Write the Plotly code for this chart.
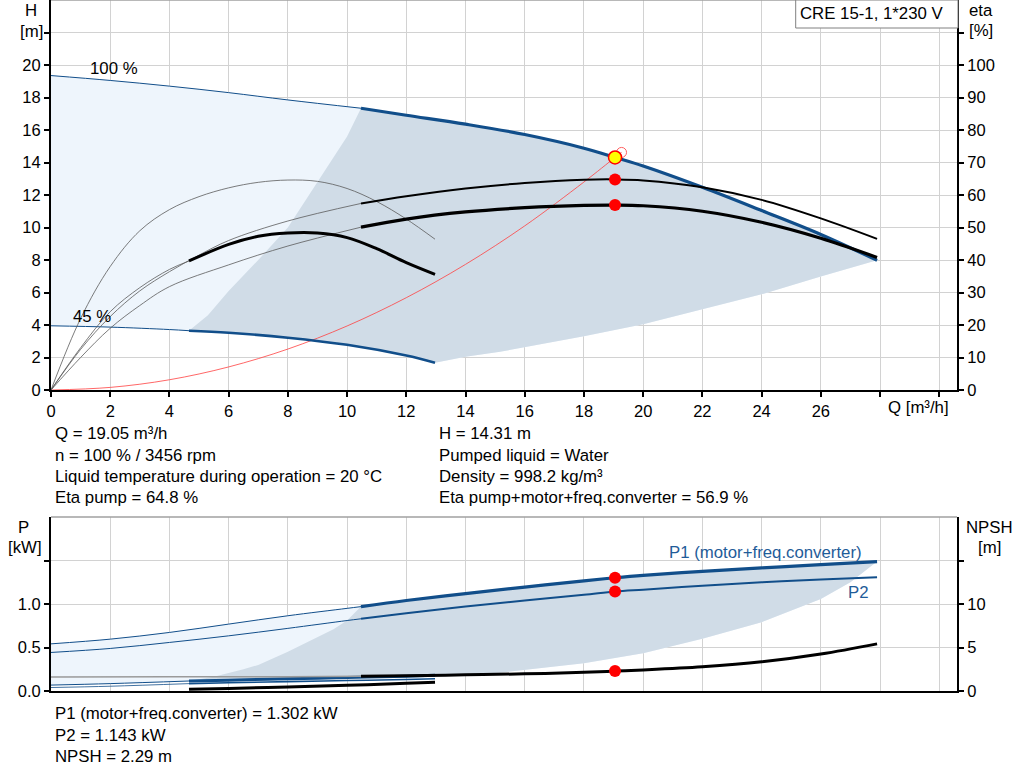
import plotly.graph_objects as go

# ---- H-Q curves (Q in m3/h, H in m) ----
q_h100_thin = [0, 2, 4, 6, 8, 10.47]
h_h100_thin = [19.35, 19.05, 18.7, 18.3, 17.85, 17.34]
q_h100 = [10.47, 12, 14, 16, 18, 19.05, 20, 22, 24, 26, 27.9]
h_h100 = [17.34, 16.91, 16.36, 15.72, 14.88, 14.31, 13.78, 12.47, 11.04, 9.57, 7.98]

q_h45_thin = [0, 2, 4, 4.66]
h_h45_thin = [3.95, 3.87, 3.72, 3.65]
q_h45 = [4.66, 6, 8, 10, 12, 12.97]
h_h45 = [3.65, 3.52, 3.22, 2.78, 2.12, 1.68]

# system curve
q_sys = [0, 2, 4, 6, 8, 10, 12, 14, 16, 18, 19.05, 19.27]
h_sys = [0, 0.16, 0.63, 1.42, 2.52, 3.94, 5.68, 7.73, 10.1, 12.8, 14.31, 14.62]

# operating range borders
q_min_border = [4.66, 5.3, 6.0, 7.0, 8.0, 9.0, 10.0, 10.47]
h_min_border = [3.65, 4.6, 6.1, 8.0, 10.0, 12.8, 15.6, 17.34]
q_max_border = [12.97, 14, 15.17, 18, 20, 22, 24, 26, 27.9]
h_max_border = [1.68, 2.05, 2.35, 3.31, 4.05, 4.95, 5.89, 6.99, 7.98]

# ---- efficiency curves (%) ----
q_etap100_thin = [0, 1, 2, 3, 4, 5, 6, 8, 10.47]
etap100_thin = [0, 12.5, 22.6, 30.5, 36.4, 41.5, 46, 52, 57.4]
q_etap100 = [10.47, 12, 14, 16, 18, 19.05, 20, 22, 24, 26, 27.9]
etap100 = [57.4, 59.6, 62.0, 63.7, 64.7, 64.8, 64.5, 62.4, 58.5, 52.8, 46.5]

q_etat100_thin = [0, 1, 2, 3, 4, 6, 8, 10.47]
etat100_thin = [0, 10, 19, 26, 31.8, 38.5, 44.3, 50.1]
q_etat100 = [10.47, 12, 14, 16, 18, 19.05, 20, 22, 24, 26, 27.9]
etat100 = [50.1, 52.6, 54.8, 56.1, 56.8, 56.9, 56.7, 55.0, 51.6, 46.7, 40.8]

q_etap45 = [0, 1, 2, 3, 4, 5, 6, 7, 8, 9, 10, 11, 12, 12.97]
etap45 = [0, 22, 38, 49, 55.5, 59.5, 62.2, 63.9, 64.6, 64.2, 62.0, 58.0, 52.6, 46.4]

q_etat45_thin = [0, 1, 2, 3, 4, 4.66]
etat45_thin = [0, 13, 24.1, 31.5, 37.1, 39.7]
q_etat45 = [4.66, 6, 7, 8, 9, 10, 11, 12, 12.97]
etat45 = [39.7, 44.8, 47.3, 48.3, 48.3, 46.9, 43.5, 39.2, 35.6]

# ---- power (kW) and NPSH (m) ----
q_p1_100_thin = [0, 2, 4, 6, 8, 10, 10.47]
p1_100_thin = [0.542, 0.596, 0.673, 0.769, 0.865, 0.95, 0.97]
q_p1_100 = [10.47, 12, 14, 16, 18, 19.05, 20, 22, 24, 26, 27.9]
p1_100 = [0.97, 1.04, 1.12, 1.195, 1.265, 1.302, 1.33, 1.375, 1.415, 1.452, 1.488]

q_p2_100_thin = [0, 2, 4, 6, 8, 10, 10.47]
p2_100_thin = [0.443, 0.489, 0.558, 0.634, 0.72, 0.81, 0.83]
q_p2_100 = [10.47, 12, 14, 16, 18, 19.05, 20, 22, 24, 26, 27.9]
p2_100 = [0.83, 0.895, 0.972, 1.04, 1.105, 1.143, 1.165, 1.21, 1.25, 1.282, 1.308]

q_p1_45_thin = [0, 2, 4.66]
p1_45_thin = [0.068, 0.085, 0.115]
q_p1_45 = [4.66, 6, 8, 10, 12, 12.97]
p1_45 = [0.115, 0.125, 0.14, 0.155, 0.17, 0.18]

q_p2_45_thin = [0, 2, 4.66]
p2_45_thin = [0.04, 0.055, 0.085]
q_p2_45 = [4.66, 6, 8, 10, 12, 12.97]
p2_45 = [0.085, 0.095, 0.108, 0.12, 0.132, 0.14]

q_p_min_border = [4.66, 5.5, 6.5, 7.0, 8.0, 8.86, 9.54, 10.0, 10.47]
p_min_border = [0.115, 0.165, 0.25, 0.3, 0.45, 0.6, 0.71, 0.81, 0.97]
q_p_max_border = [12.97, 14, 15.17, 18, 20, 22, 24, 26, 27, 27.9]
p_max_border = [0.18, 0.19, 0.21, 0.32, 0.435, 0.6, 0.79, 1.058, 1.25, 1.488]

q_npsh100_thin = [0, 4, 8, 10.47]
npsh100_thin = [1.62, 1.63, 1.65, 1.7]
q_npsh100 = [10.47, 12, 14, 16, 18, 19.05, 20, 22, 24, 26, 27.9]
npsh100 = [1.7, 1.76, 1.86, 1.97, 2.15, 2.29, 2.42, 2.78, 3.35, 4.25, 5.42]

q_npsh45 = [4.66, 6, 8, 10, 12, 12.97]
npsh45 = [0.2, 0.3, 0.45, 0.65, 0.88, 1.0]

# duty point
q_op = 19.05
h_op = 14.31
eta_pump_op = 64.8
eta_total_op = 56.9
p1_op = 1.302
p2_op = 1.143
npsh_op = 2.29
q_sys_end = 19.27
h_sys_end = 14.62

info_left = ["Q = 19.05 m³/h", "n = 100 % / 3456 rpm",
             "Liquid temperature during operation = 20 °C", "Eta pump = 64.8 %"]
info_right = ["H = 14.31 m", "Pumped liquid = Water",
              "Density = 998.2 kg/m³", "Eta pump+motor+freq.converter = 56.9 %"]
info_bottom = ["P1 (motor+freq.converter) = 1.302 kW", "P2 = 1.143 kW", "NPSH = 2.29 m"]

x_ticks = list(range(0, 31, 2))

# ---- style ----
BLUE = '#114E8A'
LABEL_BLUE = '#1F5C99'
THIN = '#5A5A5A'
LIGHT = '#EEF5FC'
DARK = '#D0DCE7'
GRID = '#D2D2D2'
FONT = 'Arial, Liberation Sans, sans-serif'
TXT = 16.8

W, H = 1024, 781
L, R, T, B = 51, 957, 0, 691


def px2paper(px, py):
    return (px - L) / (R - L), (B - py) / (B - T)


fig = go.Figure()


def curve(x, y, color, width, xa='x', ya='y', shape='spline'):
    fig.add_trace(go.Scatter(x=x, y=y, mode='lines', xaxis=xa, yaxis=ya,
                             line=dict(color=color, width=width, shape=shape),
                             hoverinfo='skip', showlegend=False))


def area(x, y, color, xa='x', ya='y'):
    fig.add_trace(go.Scatter(x=x, y=y, mode='lines', fill='toself', fillcolor=color,
                             line=dict(width=0, color=color), xaxis=xa, yaxis=ya,
                             hoverinfo='skip', showlegend=False))


# top plot areas
area(q_h100_thin + q_h100[1:] + q_max_border[::-1][1:] + q_h45[::-1][1:] + q_h45_thin[::-1],
     h_h100_thin + h_h100[1:] + h_max_border[::-1][1:] + h_h45[::-1][1:] + h_h45_thin[::-1], LIGHT)
area(q_min_border + q_h100[1:] + q_max_border[::-1][1:] + q_h45[::-1][1:],
     h_min_border + h_h100[1:] + h_max_border[::-1][1:] + h_h45[::-1][1:], DARK)

# bottom plot areas
area(q_p1_100_thin + q_p1_100[1:] + q_p_max_border[::-1][1:] + q_p1_45[::-1][1:] + q_p1_45_thin[::-1],
     p1_100_thin + p1_100[1:] + p_max_border[::-1][1:] + p1_45[::-1][1:] + p1_45_thin[::-1],
     LIGHT, 'x2', 'y3')
area(q_p_min_border + q_p1_100[1:] + q_p_max_border[::-1][1:] + q_p1_45[::-1][1:],
     p_min_border + p1_100[1:] + p_max_border[::-1][1:] + p1_45[::-1][1:],
     DARK, 'x2', 'y3')

# efficiency curves (right axis)
curve(q_etap45, etap45, THIN, 0.8, ya='y2')
curve(q_etat45_thin, etat45_thin, THIN, 0.8, ya='y2')
curve(q_etap100_thin, etap100_thin, THIN, 0.8, ya='y2')
curve(q_etat100_thin, etat100_thin, THIN, 0.8, ya='y2')
curve(q_etat45, etat45, 'black', 3, ya='y2')
curve(q_etap100, etap100, 'black', 2, ya='y2')
curve(q_etat100, etat100, 'black', 3.2, ya='y2')

# head curves
curve(q_sys, h_sys, '#FF4040', 0.8)
curve(q_h100_thin, h_h100_thin, BLUE, 1)
curve(q_h100, h_h100, BLUE, 3.2)
curve(q_h45_thin, h_h45_thin, BLUE, 1)
curve(q_h45, h_h45, BLUE, 2.6)

# bottom curves
curve(q_npsh100_thin, npsh100_thin, '#9A9A9A', 1.5, 'x2', 'y4')
curve(q_npsh100, npsh100, 'black', 3, 'x2', 'y4')
curve(q_npsh45, npsh45, 'black', 3, 'x2', 'y4')
curve(q_p2_45_thin, p2_45_thin, BLUE, 0.8, 'x2', 'y3')
curve(q_p2_45, p2_45, BLUE, 1.6, 'x2', 'y3')
curve(q_p1_45_thin, p1_45_thin, BLUE, 1, 'x2', 'y3')
curve(q_p1_45, p1_45, BLUE, 3, 'x2', 'y3')
curve(q_p2_100_thin, p2_100_thin, BLUE, 1, 'x2', 'y3')
curve(q_p2_100, p2_100, BLUE, 2, 'x2', 'y3')
curve(q_p1_100_thin, p1_100_thin, BLUE, 1, 'x2', 'y3')
curve(q_p1_100, p1_100, BLUE, 3.2, 'x2', 'y3')

# duty point markers
fig.add_trace(go.Scatter(x=[q_sys_end], y=[h_sys_end], mode='markers', hoverinfo='skip',
                         marker=dict(size=10, color='rgba(255,255,255,0)',
                                     line=dict(color='#FF6060', width=1)), showlegend=False))
fig.add_trace(go.Scatter(x=[q_op, q_op], y=[eta_pump_op, eta_total_op], mode='markers',
                         yaxis='y2', hoverinfo='skip',
                         marker=dict(size=12, color='#FF0000'), showlegend=False))
fig.add_trace(go.Scatter(x=[q_op], y=[h_op], mode='markers', hoverinfo='skip',
                         marker=dict(size=13, color='#FFFF00', line=dict(color='#FF0000', width=1.5)),
                         showlegend=False))
fig.add_trace(go.Scatter(x=[q_op, q_op], y=[p1_op, p2_op], mode='markers', xaxis='x2', yaxis='y3',
                         hoverinfo='skip', marker=dict(size=12, color='#FF0000'), showlegend=False))
fig.add_trace(go.Scatter(x=[q_op], y=[npsh_op], mode='markers', xaxis='x2', yaxis='y4',
                         hoverinfo='skip', marker=dict(size=12, color='#FF0000'), showlegend=False))

top_dom = [(B - 390) / (B - T), 1]
bot_dom = [0, (B - 517) / (B - T)]

axis_common = dict(showline=True, linecolor='black', linewidth=2, ticks='outside',
                   ticklen=5, tickcolor='black', tickwidth=1.5, zeroline=False,
                   tickfont=dict(size=16.5, color='black', family=FONT))

fig.update_layout(
    width=W, height=H,
    margin=dict(l=L, r=W - R, t=T, b=H - B),
    paper_bgcolor='white', plot_bgcolor='white',
    font=dict(family=FONT, size=16, color='black'),
    showlegend=False,
    xaxis=dict(domain=[0, 1], range=[0, 30.6], anchor='y', tickvals=x_ticks,
               ticktext=[str(v) if v <= 26 else '' for v in x_ticks],
               showgrid=True, gridcolor=GRID, gridwidth=1, **axis_common),
    yaxis=dict(domain=top_dom, range=[0, 24], anchor='x', tickvals=list(range(0, 23, 2)),
               ticktext=[str(v) if v <= 20 else '' for v in range(0, 23, 2)],
               showgrid=True, gridcolor=GRID, gridwidth=1, **axis_common),
    yaxis2=dict(overlaying='y', side='right', anchor='x', range=[0, 120],
                tickvals=list(range(0, 111, 10)),
                ticktext=[str(v) if v <= 100 else '' for v in range(0, 111, 10)],
                showgrid=False, **axis_common),
    xaxis2=dict(domain=[0, 1], range=[0, 30.6], anchor='y3', tickvals=x_ticks,
                showticklabels=False, showgrid=True, gridcolor=GRID, gridwidth=1,
                showline=True, linecolor='black', linewidth=2, zeroline=False, ticks=''),
    yaxis3=dict(domain=bot_dom, range=[0, 2.0], anchor='x2', tickvals=[0, 0.5, 1.0, 1.5],
                ticktext=['0.0', '0.5', '1.0', ''], showgrid=True, gridcolor=GRID,
                gridwidth=1, **axis_common),
    yaxis4=dict(overlaying='y3', side='right', anchor='x2', range=[0, 20],
                tickvals=[0, 5, 10, 15], ticktext=['0', '5', '10', ''],
                showgrid=False, **axis_common),
)

# frame tops (grey)
shapes = []
for yp in [1, bot_dom[1]]:
    shapes.append(dict(type='line', xref='paper', yref='paper', x0=0, x1=1, y0=yp, y1=yp,
                       line=dict(color='#A0A0A0', width=1.5)))
bx0, by0 = px2paper(795.7, 28)
bx1, by1 = px2paper(958, 0)
shapes.append(dict(type='rect', xref='paper', yref='paper', x0=bx0, x1=bx1, y0=by0, y1=by1,
                   fillcolor='white', line=dict(color='#808080', width=1)))
fig.update_layout(shapes=shapes)

annotations = []


def label(text, px, py, xanchor='center', color='black', size=TXT):
    xp, yp = px2paper(px, py)
    annotations.append(dict(text=text, x=xp, y=yp, xref='paper', yref='paper',
                            xanchor=xanchor, yanchor='middle', showarrow=False,
                            font=dict(size=size, color=color, family=FONT)))


label('CRE 15-1, 1*230 V', 872, 14)
label('H', 31, 10)
label('[m]', 31, 31)
label('eta', 981, 10)
label('[%]', 981, 30)
label('Q [m³/h]', 918, 407)
label('P', 23, 527)
label('[kW]', 25, 547)
label('NPSH', 989, 527)
label('[m]', 989, 547)
label('100 %', 114, 68)
label('45 %', 92, 317)
label('P1 (motor+freq.converter)', 864, 552, 'right', LABEL_BLUE)
label('P2', 871, 592, 'right', LABEL_BLUE)

for i, t in enumerate(info_left):
    label(t, 53, 434 + 21 * i, 'left')
for i, t in enumerate(info_right):
    label(t, 437, 434 + 21 * i, 'left')
for i, t in enumerate(info_bottom):
    label(t, 53, 714 + 21 * i, 'left')

fig.update_layout(annotations=annotations)

# page body has a default margin; drop it so the figure sits at the window corner
fig.write_html("out.html", config={'displayModeBar': False},
               post_script="document.body.style.margin='0';")
